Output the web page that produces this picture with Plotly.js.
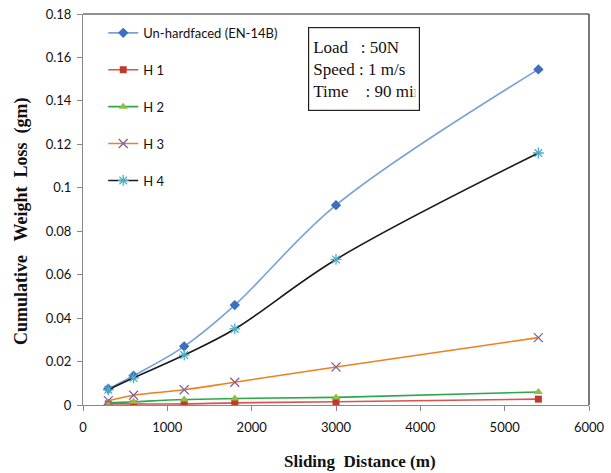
<!DOCTYPE html>
<html>
<head>
<meta charset="utf-8">
<script src="https://cdn.plot.ly/plotly-3.0.1.min.js"></script>
<style>html,body{margin:0;padding:0;background:#fff}#chart{width:611px;height:473px}</style>
</head>
<body>
<div id="chart"></div>
<script>
const distance = [300, 600, 1200, 1800, 3000, 5400];
const unHardfaced = [0.0075, 0.0135, 0.027, 0.046, 0.092, 0.1545];
const h1 = [0.0005, 0.0005, 0.0005, 0.001, 0.0015, 0.0027];
const h2 = [0.001, 0.0015, 0.0025, 0.003, 0.0035, 0.006];
const h3 = [0.002, 0.0045, 0.007, 0.0105, 0.0175, 0.031];
const h4 = [0.007, 0.0125, 0.023, 0.035, 0.067, 0.116];
const seriesNames = ['Un-hardfaced (EN-14B)', 'H 1', 'H 2', 'H 3', 'H 4'];
const xTicks = [0, 1000, 2000, 3000, 4000, 5000, 6000];
const yTicks = [0, 0.02, 0.04, 0.06, 0.08, 0.1, 0.12, 0.14, 0.16, 0.18];
const infoLines = ['Load&nbsp;&nbsp;&nbsp;: 50N', 'Speed&nbsp;: 1 m/s', 'Time&nbsp;&nbsp;&nbsp;&nbsp;: 90 min'];
const xTitle = 'Sliding&nbsp;&nbsp;Distance&nbsp;(m)';
const yTitle = 'Cumulative&nbsp;&nbsp;&nbsp;Weight&nbsp;&nbsp;Loss&nbsp;&nbsp;(gm)';

const styles = [
  {line: '#7aa0d6', marker: {symbol: 'diamond', color: '#3d6fc0', size: 8}},
  {line: '#d9534f', marker: {symbol: 'square', color: '#c0392b', size: 7}},
  {line: '#2aa84a', marker: {symbol: 'triangle-up', color: '#8fbf3f', size: 8}},
  {line: '#f07f1f', marker: {symbol: 'x-thin-open', color: '#8064a2', size: 9, line: {width: 1.3, color: '#8064a2'}}},
  {line: '#1a1a1a', marker: {symbol: 'asterisk-open', color: '#4bacc6', size: 9, line: {width: 1.3, color: '#4bacc6'}}}
];
const ys = [unHardfaced, h1, h2, h3, h4];

const data = ys.map((y, i) => ({
  x: distance, y: y, name: seriesNames[i], type: 'scatter', mode: 'lines+markers',
  legendgroup: 'g' + i,
  line: {color: styles[i].line, width: 1.6, shape: 'spline'},
  marker: styles[i].marker
}));

const layout = {
  width: 611, height: 473,
  margin: {l: 83, r: 22, t: 14, b: 68},
  paper_bgcolor: '#fff', plot_bgcolor: '#fff',
  showlegend: true,
  legend: {x: 0.04, y: 0.99, xanchor: 'left', yanchor: 'top', bgcolor: 'rgba(0,0,0,0)', itemwidth: 30,
    font: {family: 'Lato, Arial', size: 13, color: '#111'}, traceorder: 'grouped', tracegroupgap: 17},
  xaxis: {range: [0, 6000], tickvals: xTicks, ticktext: xTicks.map(String), ticks: 'outside', ticklen: 5,
    tickcolor: '#888', showline: true, linecolor: '#888', linewidth: 1, showgrid: false, zeroline: false,
    ticklabelstandoff: 5,
    tickfont: {family: 'Lato, Arial', size: 13, color: '#111'}},
  yaxis: {range: [0, 0.18], tickvals: yTicks, ticktext: yTicks.map(v => String(v)), ticks: 'outside', ticklen: 5,
    tickcolor: '#888', showline: true, linecolor: '#888', linewidth: 1, showgrid: false, zeroline: false,
    ticklabelstandoff: 3,
    tickfont: {family: 'Lato, Arial', size: 13, color: '#111'}},
  shapes: [
    {type: 'line', xref: 'paper', yref: 'paper', x0: 0, x1: 1, y0: 1, y1: 1, line: {color: '#222', width: 1.2}},
    {type: 'line', xref: 'paper', yref: 'paper', x0: 1, x1: 1, y0: 0, y1: 1, line: {color: '#222', width: 1.2}}
  ],
  annotations: [
    {xref: 'paper', yref: 'paper', x: 0.444, y: 0.966, xanchor: 'left', yanchor: 'top',
     text: infoLines.join('<br>'), align: 'left', showarrow: false, width: 102, height: 74, valign: 'middle',
     font: {family: 'Liberation Serif, Times New Roman', size: 17, color: '#111'},
     bordercolor: '#222', borderwidth: 1.2, borderpad: 4, bgcolor: '#fff'},
    {xref: 'paper', yref: 'paper', x: 0.547, y: -0.145, xanchor: 'center', yanchor: 'middle',
     text: xTitle, showarrow: false,
     font: {family: 'Liberation Serif, Times New Roman', size: 17, color: '#111', weight: 'bold'}},
    {xref: 'paper', yref: 'paper', x: -0.123, y: 0.47, xanchor: 'center', yanchor: 'middle', textangle: -90,
     text: yTitle, showarrow: false,
     font: {family: 'Liberation Serif, Times New Roman', size: 18, color: '#111', weight: 'bold'}}
  ]
};

Plotly.newPlot('chart', data, layout, {displayModeBar: false, staticPlot: true});
</script>
</body>
</html>
